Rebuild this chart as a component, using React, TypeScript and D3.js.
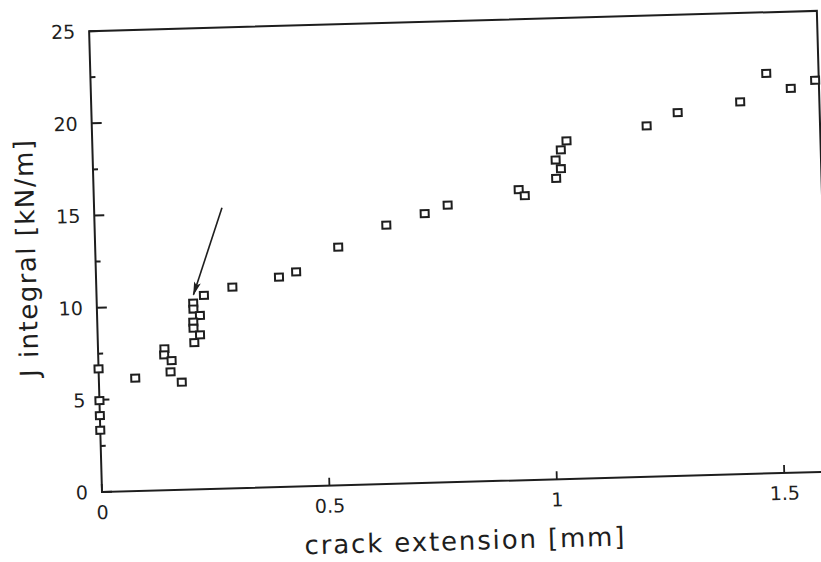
import React, { useEffect, useRef } from 'react'
import * as d3 from 'd3'

// crack extension [mm] and J integral [kN/m]
const crackExtension = [
  0, 0, 0, 0, 0.08,
  0.146, 0.145, 0.161, 0.158, 0.182,
  0.212, 0.212, 0.226, 0.211, 0.211, 0.225, 0.212, 0.236,
  0.299, 0.402, 0.44, 0.534, 0.641, 0.726, 0.777,
  0.934, 0.947, 1.017, 1.017, 1.028, 1.029, 1.042,
  1.219, 1.288, 1.426, 1.485, 1.538, 1.592
]
const jIntegral = [
  6.68, 4.96, 4.14, 3.35, 6.12,
  7.67, 7.34, 7.02, 6.41, 5.83,
  10.1, 9.78, 9.42, 9.07, 8.74, 8.37, 7.96, 10.5,
  10.91, 11.38, 11.64, 12.92, 14.04, 14.6, 15.03,
  15.76, 15.42, 16.31, 17.31, 16.83, 17.85, 18.33,
  19.02, 19.69, 20.18, 21.69, 20.84, 21.24
]

const xTicks = [0, 0.5, 1, 1.5]
const xTickLabels = ['0', '0.5', '1', '1.5']
const yTicks = [0, 5, 10, 15, 20, 25]
const yMinorTicks = [2.5, 7.5, 12.5, 17.5, 22.5]

// the arrow pointing at the cluster near 0.21 mm
const arrowFrom = [0.281, 15.23]
const arrowTo = [0.213, 10.55]

export default function App() {
  const ref = useRef<SVGSVGElement>(null)

  useEffect(() => {
    const width = 728
    const height = 461
    const origin = { x: 102, y: 492 }
    const ink = '#1e1e1e'

    const svg = d3.select(ref.current)
    svg.selectAll('*').remove()

    svg.append('defs').append('marker')
      .attr('id', 'arrowhead')
      .attr('markerUnits', 'userSpaceOnUse')
      .attr('markerWidth', 14)
      .attr('markerHeight', 8)
      .attr('refX', 13)
      .attr('refY', 4)
      .attr('orient', 'auto')
      .append('path')
      .attr('d', 'M0,0.5 L14,4 L0,7.5 L3,4 Z')
      .attr('fill', ink)

    // the scan is a little tilted, so the whole plot is turned with it
    const g = svg.append('g')
      .attr('transform', 'rotate(-1.6,' + origin.x + ',' + origin.y + ') translate(' + origin.x + ',' + (origin.y - height) + ')')

    const x = d3.scaleLinear().domain([0, 1.6]).range([0, width])
    const y = d3.scaleLinear().domain([0, 25]).range([height, 0])

    // frame
    g.append('rect')
      .attr('width', width)
      .attr('height', height)
      .attr('fill', 'none')
      .attr('stroke', ink)
      .attr('stroke-width', 2)

    // ticks on left and bottom, pointing inward
    g.selectAll('.ymajor')
      .data(yTicks)
      .enter().append('line')
      .attr('x1', 0).attr('x2', 10)
      .attr('y1', d => y(d)).attr('y2', d => y(d))
      .attr('stroke', ink).attr('stroke-width', 2)

    g.selectAll('.yminor')
      .data(yMinorTicks)
      .enter().append('line')
      .attr('x1', 0).attr('x2', 5)
      .attr('y1', d => y(d)).attr('y2', d => y(d))
      .attr('stroke', ink).attr('stroke-width', 2)

    g.selectAll('.xmajor')
      .data(xTicks)
      .enter().append('line')
      .attr('x1', d => x(d)).attr('x2', d => x(d))
      .attr('y1', height).attr('y2', height - 8)
      .attr('stroke', ink).attr('stroke-width', 1.8)

    const font = '"DejaVu Sans", sans-serif'

    g.selectAll('.ylabel')
      .data(yTicks)
      .enter().append('text')
      .attr('x', -14)
      .attr('y', d => y(d))
      .attr('dy', '0.36em')
      .attr('text-anchor', 'end')
      .attr('font-family', font)
      .attr('font-size', 19)
      .attr('fill', ink)
      .text(d => d)

    g.selectAll('.xlabel')
      .data(xTicks)
      .enter().append('text')
      .attr('x', d => x(d))
      .attr('y', height + 27)
      .attr('text-anchor', 'middle')
      .attr('font-family', font)
      .attr('font-size', 19)
      .attr('fill', ink)
      .text((d, i) => xTickLabels[i])

    // axis titles
    g.append('text')
      .attr('x', 361 - 160)
      .attr('y', height + 68)
      .attr('textLength', 320)
      .attr('lengthAdjust', 'spacing')
      .attr('font-family', font)
      .attr('font-size', 26)
      .attr('fill', ink)
      .text('crack extension [mm]')

    g.append('text')
      .attr('transform', 'translate(-60,' + (height - 235) + ') rotate(-90)')
      .attr('x', -118)
      .attr('y', 0)
      .attr('textLength', 237)
      .attr('lengthAdjust', 'spacing')
      .attr('font-family', font)
      .attr('font-size', 26)
      .attr('fill', ink)
      .text('J integral [kN/m]')

    // arrow
    g.append('line')
      .attr('x1', x(arrowFrom[0])).attr('y1', y(arrowFrom[1]))
      .attr('x2', x(arrowTo[0])).attr('y2', y(arrowTo[1]))
      .attr('stroke', ink)
      .attr('stroke-width', 1.6)
      .attr('marker-end', 'url(#arrowhead)')

    // data squares
    g.selectAll('.pt')
      .data(crackExtension)
      .enter().append('rect')
      .attr('x', d => x(d) - 4)
      .attr('y', (d, i) => y(jIntegral[i]) - 3.5)
      .attr('width', 8)
      .attr('height', 7)
      .attr('fill', 'white')
      .attr('stroke', ink)
      .attr('stroke-width', 2)
  }, [])

  return (
    <svg ref={ref} width={821} height={562}
      style={{ position: 'absolute', left: 0, top: 0, background: 'white' }} />
  )
}
